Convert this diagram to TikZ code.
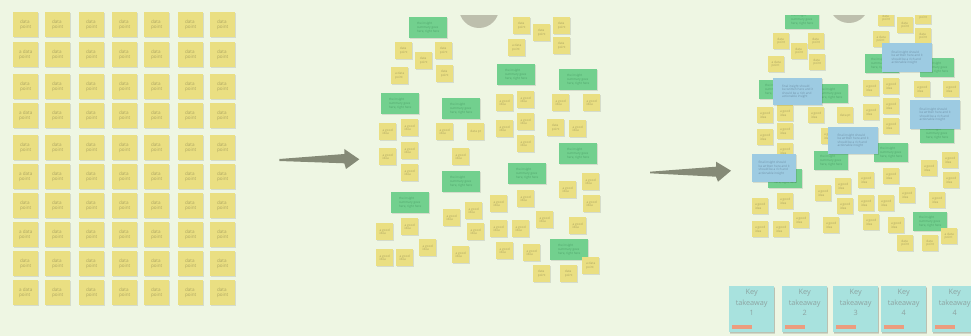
\documentclass[tikz,border=0pt]{standalone}
\usepackage{fontspec}
\setmainfont{Open Sans}
\usetikzlibrary{shadows,calc}

\definecolor{bgc}{HTML}{EEF6E3}
\definecolor{yelc}{HTML}{EADF82}
\definecolor{yeltxt}{HTML}{ADA561}
\definecolor{grnc}{HTML}{72D08E}
\definecolor{grntxt}{HTML}{4FA36B}
\definecolor{bluc}{HTML}{9DCBE2}
\definecolor{blutxt}{HTML}{6F91A8}
\definecolor{tkc}{HTML}{A8E2DE}
\definecolor{tktxt}{HTML}{8DA3A1}
\definecolor{orc}{HTML}{EC9C7E}
\definecolor{arrc}{HTML}{858A77}
\definecolor{dotc}{HTML}{BDBFAD}

% note texts
\newcommand\txD{data\\point}
\newcommand\txA{a data\\point}
\newcommand\txG{a good\\idea}
\newcommand\txP{data pt}
\newcommand\txS{the insight\\summary goes\\here, right here}
\newcommand\txF{final insight should\\be written here and it\\should be a rich and\\actionable insight}

\begin{document}
\begin{tikzpicture}[x=1pt,y=-1pt,
  note/.style={anchor=north west, inner sep=0.6pt, align=left,
    drop shadow={shadow xshift=0.4pt,shadow yshift=-1pt,fill=black,opacity=0.10}},
  gridnote/.style={note, fill=yelc, minimum width=25pt, minimum height=25pt,
    text=yeltxt, font=\fontsize{4.6}{5.2}\selectfont},
  ynote/.style={note, fill=yelc, minimum width=17pt, minimum height=17pt,
    text=yeltxt, font=\fontsize{3.2}{3.7}\selectfont},
  rnote/.style={ynote, minimum width=16pt, minimum height=16pt},
  gnote/.style={note, fill=grnc, minimum width=38pt, minimum height=21pt,
    text=grntxt, font=\fontsize{3.1}{3.6}\selectfont},
  rgnote/.style={gnote, minimum width=34pt, minimum height=19pt},
  bnote/.style={note, fill=bluc, minimum width=50pt, minimum height=28pt,
    text=blutxt, font=\fontsize{3.1}{3.6}\selectfont},
  tknote/.style={note, fill=tkc, minimum width=45pt, minimum height=46pt,
    text=tktxt, align=center, font=\fontsize{7.3}{10.3}\selectfont,
    drop shadow={shadow xshift=0.5pt,shadow yshift=-1.8pt,fill=black,opacity=0.12}},
  bigarrow/.style={fill=arrc}
]
\useasboundingbox (0,0) rectangle (971,336);
\fill[bgc] (0,0) rectangle (971,336);
\clip (0,0) rectangle (971,336);

% ---- raw data points in a grid
\foreach \yy [count=\r] in {12,42,74,103,135,164,193,222,251,280}{
  \foreach \xx [count=\c] in {13,45,79,112,144,178,210}{
    \node[gridnote] (g-\r-\c) at (\xx,\yy)
      {\ifnum\c=1 \ifodd\r data\else a data\fi\else data\fi\\point};
  }
}

% ---- arrows between stages
\fill[bigarrow] (279.3,159) -- (344.3,154) -- (344.3,149) -- (359.3,159.3)
  -- (346,169) -- (344.3,163.3) -- (279.3,161) -- cycle;
\fill[bigarrow] (650,171.7) -- (716,166.7) -- (716,161.7) -- (731,170.7)
  -- (718,181.7) -- (716,176.7) -- (650,173.3) -- cycle;

% ---- clustered notes
\begin{scope}
  \clip (430,16) rectangle (530,40);
  \fill[dotc] (479,8) circle[radius=20pt];
\end{scope}

\foreach \x/\y [count=\i] in {409/17,497/64,559/69,381/93,442/98,559/143,
    442/171,508/163,391/192,550/239}{
  \node[gnote] (mg\i) at (\x,\y) {\txS};
}

\foreach \x/\y/\t [count=\i] in {
    395/42/\txD, 435/42/\txD, 415/52/\txD, 391/67/\txA, 436/65/\txD,
    513/17/\txD, 533/24/\txD, 553/17/\txD, 508/39/\txA, 553/37/\txD,
    496/94/\txG, 517/91/\txG, 552/94/\txG, 583/94/\txG,
    379/123/\txG, 401/119/\txG, 436/123/\txG, 467/123/\txP,
    496/120/\txG, 517/113/\txG, 547/119/\txD, 569/120/\txG, 517/135/\txG,
    379/148/\txG, 401/142/\txG, 401/164/\txG, 452/148/\txG,
    582/173/\txG, 559/181/\txG, 583/195/\txG, 517/190/\txG, 490/195/\txG,
    443/209/\txG, 465/202/\txG, 467/223/\txG, 536/211/\txG, 569/217/\txG,
    490/220/\txG, 512/220/\txG, 376/223/\txG, 401/218/\txG,
    419/239/\txG, 452/246/\txG, 376/249/\txG, 396/249/\txG,
    496/242/\txG, 523/244/\txG, 582/257/\txA, 533/265/\txD, 560/265/\txD}{
  \node[ynote] (m\i) at (\x,\y) {\t};
}

% ---- clusters with final insights
\begin{scope}
  \clip (740,16) rectangle (971,262);
  \fill[dotc] (849,3) circle[radius=20pt];

  \foreach \x/\y [count=\i] in {785/10,865/54,920/58,759/80,814/84,920/124,
      874/143,768/169,814/151,913/212}{
    \node[rgnote] (rg\i) at (\x,\y) {\txS};
  }

  \foreach \x/\y/\t [count=\i] in {
      773/33/\txD, 791/43/\txD, 808/33/\txD, 768/56/\txA, 809/54/\txD,
      878/10/\txD, 897/17/\txD, 915/8/\txD, 873/31/\txA, 915/28/\txD,
      863/80/\txG, 883/78/\txG, 914/81/\txG, 943/81/\txG,
      757/107/\txG, 777/105/\txG, 808/107/\txG, 837/107/\txP,
      863/104/\txG, 883/98/\txG, 883/118/\txG,
      757/129/\txG, 777/123/\txG, 777/143/\txG, 821/128/\txG,
      942/152/\txG, 921/160/\txG, 943/172/\txG, 858/172/\txG, 883/168/\txG,
      835/178/\txG, 815/185/\txG, 899/187/\txG, 929/192/\txG,
      837/198/\txG, 858/195/\txG, 878/195/\txG, 777/193/\txG, 752/198/\txG,
      793/212/\txG, 823/217/\txG, 863/214/\txG, 888/217/\txG,
      752/221/\txG, 773/221/\txG, 941/228/\txA, 897/235/\txD, 922/235/\txD}{
    \node[rnote] (r\i) at (\x,\y) {\t};
  }

  \node[bnote, minimum height=29pt] (rb1) at (882,43)  {\txF};
  \node[bnote, minimum width=49pt, minimum height=27pt] (rb2) at (773,78) {\txF};
  \node[bnote, minimum height=29pt] (rb3) at (910,100) {\txF};
  \node[bnote, minimum height=27pt] (rb4) at (828,127) {\txF};
  \node[bnote, minimum width=44pt] (rb5) at (752,154) {\txF};
\end{scope}

% ---- key takeaways
\foreach \x/\n [count=\i] in {729/1,782/2,833/3,881/4,932/4}{
  \node[tknote] (tk\i) at (\x,286) {Key\\takeaway\\\n\\[3pt]};
  \fill[orc] ($(tk\i.south west)+(3,-7)$) rectangle ++(20,4);
}
\end{tikzpicture}
\end{document}
